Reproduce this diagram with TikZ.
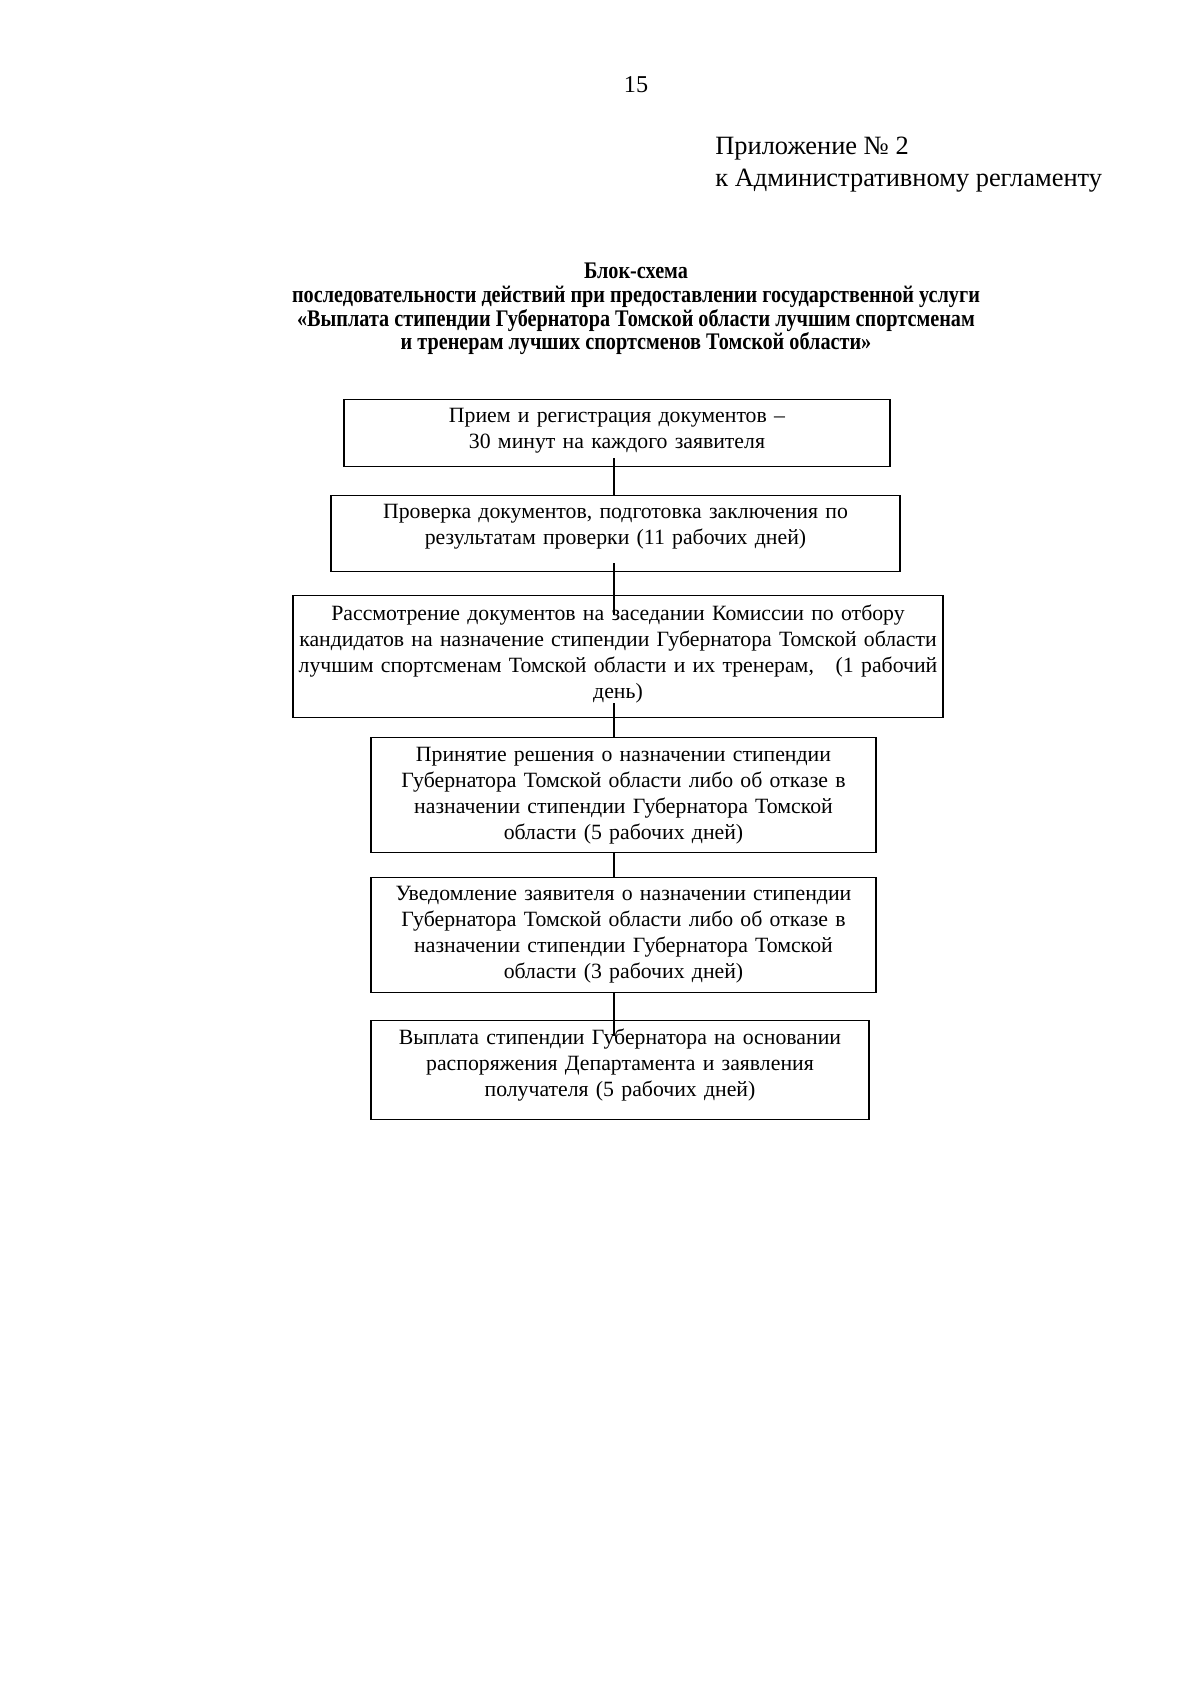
\documentclass[tikz,border=0pt]{standalone}
\usepackage{fontspec}
\setmainfont{Liberation Serif}
\newfontfamily\titlefont[FakeStretch=0.85]{Liberation Serif}
\tikzset{
  doc box/.style={draw,line width=.7pt,inner xsep=2pt,inner ysep=0pt,align=center,anchor=north,
    font=\fontsize{10.8}{12.75}\selectfont},
  doc link/.style={line width=.7pt},
  doc head/.style={anchor=base west,inner sep=0pt,font=\fontsize{13.1}{15.5}\selectfont}
}
\begin{document}
\begin{tikzpicture}[x=0.496pt,y=-0.496pt]
  \useasboundingbox (0,0) rectangle (1200,1698);
  \node[font=\fontsize{12}{14}\selectfont] (pagenum) at (636,85) {15};
  \node[doc head] (prilozh) at (715,154) {Приложение № 2};
  \node[doc head] (reglament) at (715,186) {к Административному регламенту};
  \node[align=center,font=\titlefont\bfseries\fontsize{11.8}{11.7}\selectfont] (title) at (636,309)
    {Блок-схема\\последовательности действий при предоставлении государственной услуги\\
     «Выплата стипендии Губернатора Томской области лучшим спортсменам\\
     и тренерам лучших спортсменов Томской области»};
  % boxes
  \node[doc box,text width=266.8pt,text height=11.5pt,text depth=21.7pt] (priem) at (617,399)
    {Прием и регистрация документов –\\30 минут на каждого заявителя};
  \node[doc box,text width=278.2pt,text height=11.5pt,text depth=26.2pt] (proverka) at (615.5,495)
    {Проверка документов, подготовка заключения по\\результатам проверки (11 рабочих дней)};
  \node[doc box,text width=318.4pt,text height=12.5pt,text depth=48pt] (komissia) at (618,595)
    {Рассмотрение документов на заседании Комиссии по отбору\\
     кандидатов на назначение стипендии Губернатора Томской области\\
     лучшим спортсменам Томской области и их тренерам,\ \ \ (1 рабочий\\день)};
  \node[doc box,text width=246.5pt,text height=12pt,text depth=45pt] (reshenie) at (623.5,737)
    {Принятие решения о назначении стипендии\\Губернатора Томской области либо об отказе в\\
     назначении стипендии Губернатора Томской\\области (5 рабочих дней)};
  \node[doc box,text width=246.5pt,text height=11.5pt,text depth=45.5pt] (uvedom) at (623.5,877)
    {Уведомление заявителя о назначении стипендии\\Губернатора Томской области либо об отказе в\\
     назначении стипендии Губернатора Томской\\области (3 рабочих дней)};
  \node[doc box,text width=243pt,text height=12pt,text depth=37.1pt] (vyplata) at (620,1020)
    {Выплата стипендии Губернатора на основании\\распоряжения Департамента и заявления\\
     получателя (5 рабочих дней)};
  % connectors
  \coordinate (axis) at (614,0);
  \draw[doc link] ([yshift=4.5pt]priem.south -| axis) -- (proverka.north -| axis);
  \draw[doc link] ([yshift=4.5pt]proverka.south -| axis) -- ([yshift=-10pt]komissia.north -| axis);
  \draw[doc link] ([yshift=7.5pt]komissia.south -| axis) -- (reshenie.north -| axis);
  \draw[doc link] (reshenie.south -| axis) -- (uvedom.north -| axis);
  \draw[doc link] (uvedom.south -| axis) -- ([yshift=-8pt]vyplata.north -| axis);
\end{tikzpicture}
\end{document}
